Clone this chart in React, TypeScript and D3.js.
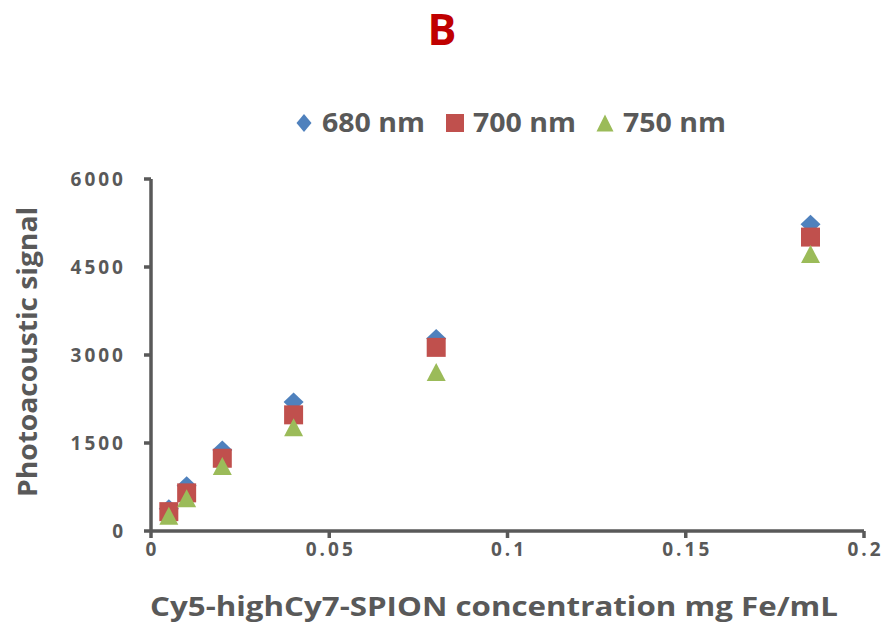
import React from "react";
import * as d3 from "d3";

const concentrations = [0.005, 0.01, 0.02, 0.04, 0.08, 0.185];
const s680 = [380, 770, 1380, 2200, 3280, 5230];
const s700 = [330, 650, 1240, 1980, 3130, 5010];
const s750 = [260, 560, 1110, 1770, 2710, 4720];
const xTicks = [0, 0.05, 0.1, 0.15, 0.2];
const xTickLabels = ["0", "0.05", "0.1", "0.15", "0.2"];
const yTicks = [0, 1500, 3000, 4500, 6000];
const seriesNames = ["680 nm", "700 nm", "750 nm"];
const seriesColors = ["#4F81BD", "#C0504D", "#9BBB59"];

const W = 889;
const H = 630;
const FONT = "'Open Sans', Lato, sans-serif";
const AXIS = "#595959";

// marker path builders (w = full width, h = full height), centered on the origin
function markerPath(kind: number, w: number, h: number): string {
  const p = d3.path();
  if (kind === 0) {
    p.moveTo(0, -h / 2);
    p.lineTo(w / 2, 0);
    p.lineTo(0, h / 2);
    p.lineTo(-w / 2, 0);
    p.closePath();
  } else if (kind === 1) {
    p.rect(-w / 2, -h / 2, w, h);
  } else {
    p.moveTo(0, -h / 2);
    p.lineTo(w / 2, h / 2);
    p.lineTo(-w / 2, h / 2);
    p.closePath();
  }
  return p.toString();
}

export default function App() {
  const x = d3.scaleLinear().domain([0, 0.2]).range([151, 864]);
  const y = d3.scaleLinear().domain([0, 6000]).range([531, 179]);
  const series = [s680, s700, s750];
  const plotSizes: [number, number][] = [[20, 19], [19, 19], [19, 18]];
  const legendSizes: [number, number][] = [[15, 18], [18, 18], [17, 17]];
  const legendItems = [
    { mx: 304, tx: 322 },
    { mx: 455, tx: 473 },
    { mx: 605, tx: 623 },
  ];
  return (
    <svg width={W} height={H} style={{ display: "block", position: "absolute", left: 0, top: 0 }}>
      <rect width={W} height={H} fill="#fff" />
      <text x={442} y={45} textAnchor="middle" fontFamily={FONT} fontWeight="bold" fontSize={43} fill="#C00000">B</text>
      {legendItems.map((it, i) => (
        <g key={i}>
          <path d={markerPath(i, legendSizes[i][0], legendSizes[i][1])} transform={`translate(${it.mx},${123})`} fill={seriesColors[i]} />
          <text x={it.tx} y={132} fontFamily={FONT} fontWeight="bold" fontSize={26} fill={AXIS} textLength={103} lengthAdjust="spacingAndGlyphs">{seriesNames[i]}</text>
        </g>
      ))}
      {/* axes */}
      <line x1={x(0)} x2={x(0.2)} y1={y(0)} y2={y(0)} stroke={AXIS} strokeWidth={3.5} />
      <line x1={x(0)} x2={x(0)} y1={y(0)} y2={y(6000)} stroke={AXIS} strokeWidth={3.5} />
      {yTicks.map((t) => (
        <g key={t}>
          <line x1={x(0) - 7} x2={x(0)} y1={y(t)} y2={y(t)} stroke={AXIS} strokeWidth={3.5} />
          <text x={126} y={y(t) + 7} textAnchor="end" fontFamily={FONT} fontWeight="bold" fontSize={19} letterSpacing={3} fill={AXIS}>{t}</text>
        </g>
      ))}
      {xTicks.map((t, i) => (
        <g key={t}>
          <line x1={x(t)} x2={x(t)} y1={y(0)} y2={y(0) + 7} stroke={AXIS} strokeWidth={3.5} />
          <text x={x(t) + 1.5} y={556} textAnchor="middle" fontFamily={FONT} fontWeight="bold" fontSize={19} letterSpacing={3} fill={AXIS}>{xTickLabels[i]}</text>
        </g>
      ))}
      <text x={494} y={616} textAnchor="middle" fontFamily={FONT} fontWeight="bold" fontSize={26} fill={AXIS} textLength={688} lengthAdjust="spacingAndGlyphs">Cy5-highCy7-SPION concentration mg Fe/mL</text>
      <text transform={`translate(37,352) rotate(-90)`} textAnchor="middle" fontFamily={FONT} fontWeight="bold" fontSize={26} fill={AXIS} textLength={290} lengthAdjust="spacingAndGlyphs">Photoacoustic signal</text>
      {series.map((vals, i) => (
        <g key={i}>
          {vals.map((v, j) => (
            <path key={j} d={markerPath(i, plotSizes[i][0], plotSizes[i][1])} transform={`translate(${x(concentrations[j])},${y(v)})`} fill={seriesColors[i]} />
          ))}
        </g>
      ))}
    </svg>
  );
}
